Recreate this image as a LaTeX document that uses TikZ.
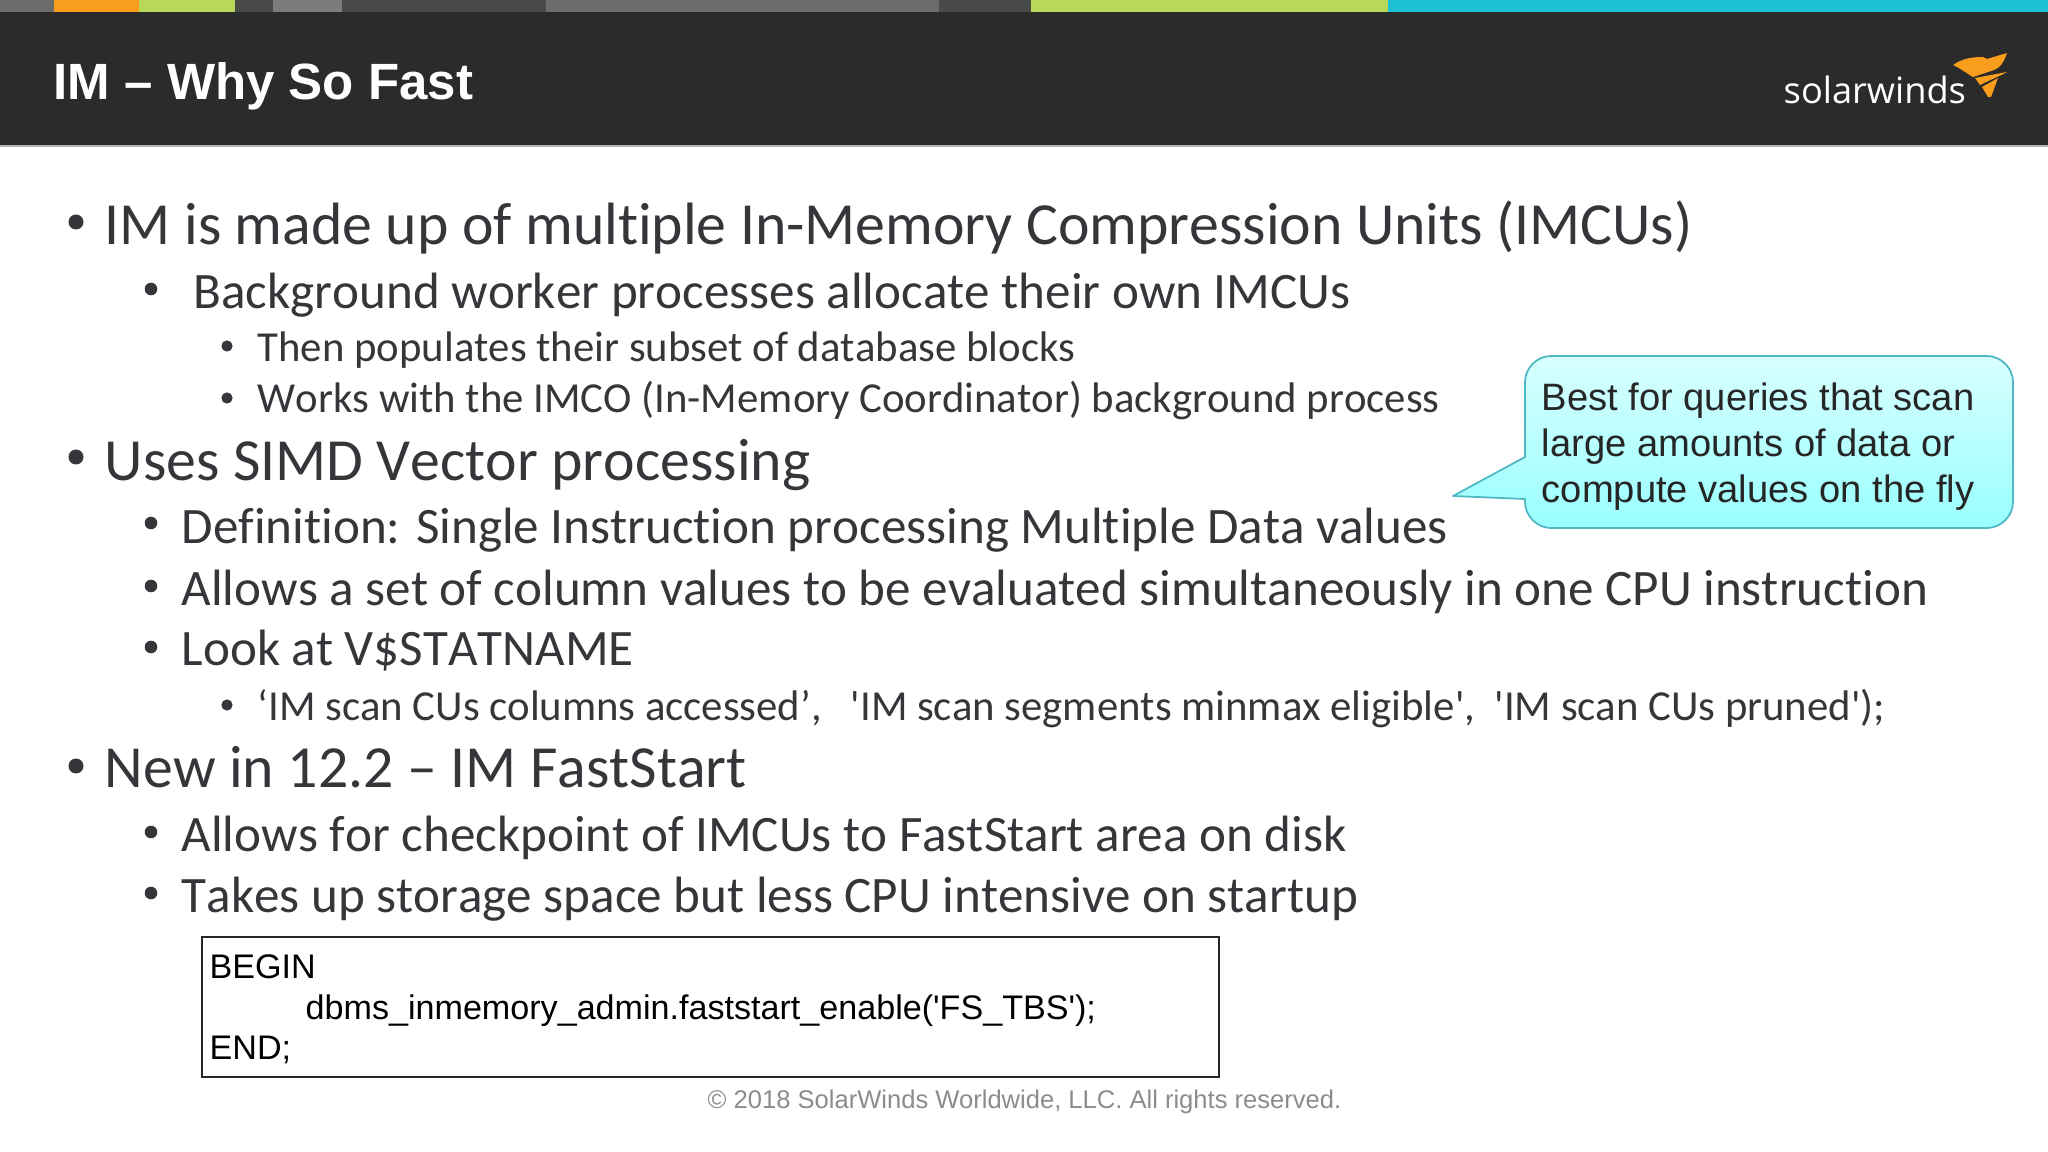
\documentclass[tikz,border=0pt]{standalone}
\usepackage{fontspec}
\newfontfamily\bodyfont[Ligatures=NoCommon,Kerning=Off]{Carlito}
\newfontfamily\armfont{Liberation Sans}
\newfontfamily\logofont{Open Sans}
\definecolor{headerDark}{RGB}{43,43,43}
\definecolor{bodyGray}{RGB}{52,54,58}
\definecolor{barDark}{RGB}{72,75,72}
\definecolor{barMid}{RGB}{106,109,106}
\definecolor{barLight}{RGB}{122,125,122}
\definecolor{windsOrange}{RGB}{249,157,28}
\definecolor{windsGreen}{RGB}{184,216,88}
\definecolor{windsCyan}{RGB}{28,194,212}
\definecolor{calloutEdge}{RGB}{78,184,196}
\tikzset{
    levelone/.style={anchor=base west,inner sep=0,text=bodyGray,font=\bodyfont\fontsize{16.99}{20}\selectfont},
    leveltwo/.style={anchor=base west,inner sep=0,text=bodyGray,font=\bodyfont\fontsize{14.53}{17}\selectfont},
    levelthree/.style={anchor=base west,inner sep=0,text=bodyGray,font=\bodyfont\fontsize{12.16}{14}\selectfont},
    calloutline/.style={anchor=base west,inner sep=0,text=black!85,font=\armfont\fontsize{10.85}{13}\selectfont},
    codeline/.style={anchor=base west,inner sep=0,font=\armfont\fontsize{9.7}{11}\selectfont},
}
\begin{document}
\begin{tikzpicture}[x=0.01cm,y=-0.01cm]
    \useasboundingbox (0,0) rectangle (2048,1152);

    % header
    \fill[headerDark] (0,12) rectangle (2048,146);
    \fill[black!30] (0,145.5) rectangle (2048,147);
    \foreach \xa/\xb/\barcolor in {0/54/barMid,54/139/windsOrange,139/235/windsGreen,235/273/barDark,273/342/barLight,342/546/barDark,546/939/barMid,939/1031/barDark,1031/1388/windsGreen,1388/2048/windsCyan}
        \fill[\barcolor] (\xa,0) rectangle (\xb,12);
    \node[anchor=base west,inner sep=0,text=white,font=\armfont\bfseries\fontsize{14.5}{18}\selectfont] (title) at (53,100) {IM – Why So Fast};
    \node[anchor=base west,inner sep=0,text=white,font=\logofont\fontsize{10.3}{12}\selectfont] (logo) at (1783,104) {solarwinds};

    % flame
    \fill[windsOrange] (1953,65) .. controls (1962,59) and (1970,57) .. (1983,57) -- (1987,59) -- (2007,53) .. controls (2004,62) and (2000,68) .. (1994,70) -- (1973,77) .. controls (1966,73) and (1960,68) .. (1953,65) -- cycle;
    \fill[windsOrange] (1975,78) -- (2007,72) .. controls (2000,76) and (1990,80) .. (1980,85) -- cycle;
    \fill[windsOrange] (1982,87) -- (1998,78) -- (1991,97) -- (1988,97) -- cycle;

    % bullets
    \foreach \y in {222,457,766}
        \fill[bodyGray] (76,\y) circle (7.5);
    \foreach \y in {289,523,586,647,832,893}
        \fill[bodyGray] (151,\y) circle (6.3);
    \foreach \y in {346,398,705}
        \fill[bodyGray] (227,\y) circle (5.6);

    % body text
    \node[levelone] (imcus) at (104,245) {IM is made up of multiple In-Memory Compression Units (IMCUs)};
    \node[leveltwo] (workers) at (193,309) {Background worker processes allocate their own IMCUs};
    \node[levelthree] (populate) at (257,362) {Then populates their subset of database blocks};
    \node[levelthree] (imco) at (257,413) {Works with the IMCO (In-Memory Coordinator) background process};
    \node[levelone] (simd) at (104,481) {Uses SIMD Vector processing};
    \node[leveltwo] (definition) at (181,544) {Definition: Single Instruction processing Multiple Data values};
    \node[leveltwo] (allows) at (181,605) {Allows a set of column values to be evaluated simultaneously in one CPU instruction};
    \node[leveltwo] (statname) at (181,666) {Look at V\$STATNAME};
    \node[levelthree] (scans) at (257,720) {‘IM scan CUs columns accessed’,\ \ \ 'IM scan segments minmax eligible',\ \ 'IM scan CUs pruned');};
    \node[levelone] (faststart) at (104,787) {New in 12.2 – IM FastStart};
    \node[leveltwo] (checkpoint) at (181,851) {Allows for checkpoint of IMCUs to FastStart area on disk};
    \node[leveltwo] (storage) at (181,912) {Takes up storage space but less CPU intensive on startup};

    % callout
    \draw[calloutEdge,line width=0.5pt,line join=round,top color=cyan!15,bottom color=cyan!40!white] (1525,457) -- (1525,382) .. controls (1525,368) and (1537,356) .. (1551,356) -- (1987,356) .. controls (2001,356) and (2013,368) .. (2013,382) -- (2013,502) .. controls (2013,516) and (2001,528) .. (1987,528) -- (1551,528) .. controls (1537,528) and (1525,516) .. (1525,502) -- (1525,499) -- (1453,496) -- cycle;
    \node[calloutline] (scanone) at (1541,411) {Best for queries that scan};
    \node[calloutline] (scantwo) at (1541,457) {large amounts of data or};
    \node[calloutline] (scanthree) at (1541,503) {compute values on the fly};

    % code box
    \draw[thick,black!85] (202,937) rectangle (1219,1077);
    \node[codeline] (codebegin) at (209,978) {BEGIN};
    \node[codeline] (codecall) at (305,1019) {dbms\_inmemory\_admin.faststart\_enable('FS\_TBS');};
    \node[codeline] (codeend) at (209,1059) {END;};

    \node[anchor=base west,inner sep=0,text=black!45,font=\armfont\fontsize{7.27}{9}\selectfont] (copyright) at (707,1108) {© 2018 SolarWinds Worldwide, LLC. All rights reserved.};
\end{tikzpicture}
\end{document}
